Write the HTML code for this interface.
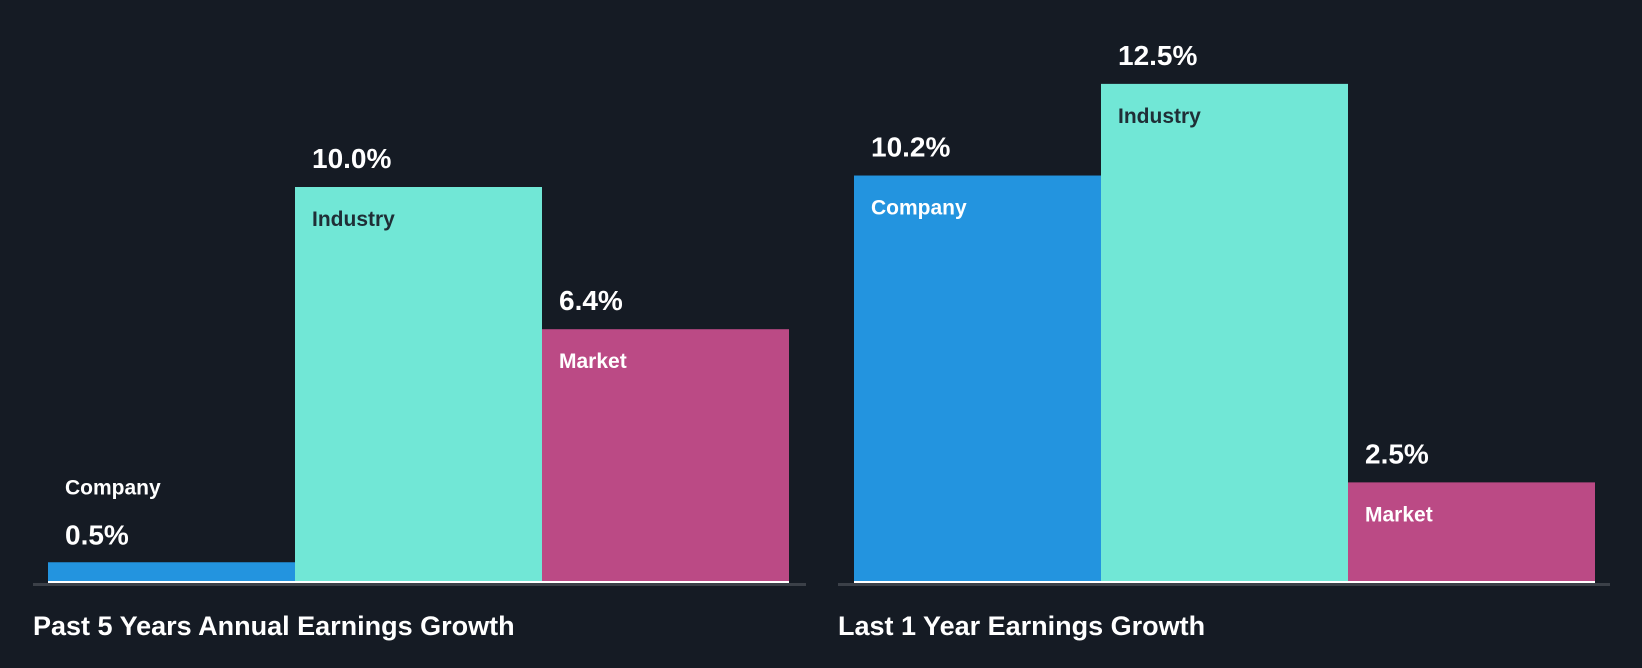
<!DOCTYPE html>
<html><head><meta charset="utf-8"><style>
html,body{margin:0;padding:0;background:#151b24;}
svg{display:block;font-family:"Liberation Sans",sans-serif;font-weight:bold;}
</style></head><body>
<svg id="chart" width="1642" height="668" viewBox="0 0 1642 668">
<rect x="0" y="0" width="1642" height="668" fill="#151b24"/>
</svg>
<script>
const categories = ["Company","Industry","Market"];
const past5Values = [0.5, 10.0, 6.4];
const last1Values = [10.2, 12.5, 2.5];
const panelTitles = ["Past 5 Years Annual Earnings Growth","Last 1 Year Earnings Growth"];

const colors = ["#2394df","#71e7d6","#bb4a85"];
const textColors = ["#ffffff","#1f2e36","#ffffff"];
const svg = document.getElementById('chart');
const NS = "http://www.w3.org/2000/svg";
const baseY = 582;
function mk(tag, attrs){const e=document.createElementNS(NS,tag);for(const k in attrs)e.setAttribute(k,attrs[k]);svg.appendChild(e);return e;}
const panels = [
  {values: past5Values, x0: 48, bw: 247, axisX0: 33, axisX1: 806, scale: 39.5, titleX: 33},
  {values: last1Values, x0: 854, bw: 247, axisX0: 838, axisX1: 1610, scale: 39.85, titleX: 838}
];
panels.forEach((p, pi) => {
  const yScale = v => baseY - v * p.scale;
  const axis = mk('rect',{x:p.axisX0,y:baseY+1,width:p.axisX1-p.axisX0,height:3,fill:'#3b4048'});
  
  
  p.values.forEach((v, i) => {
    const x = p.x0 + i * p.bw;
    const top = yScale(v);
    const bar = mk('rect',{x:x,y:top,width:p.bw,height:baseY-top,fill:colors[i]});
    
    
    const base = mk('rect',{x:x,y:baseY-1,width:p.bw,height:2,fill:'#ffffff'});
    
    
    const small = (baseY - top) < 60;
    const val = mk('text',{x:x+17,y:small?(top-18):(top-19),fill:'#ffffff','font-size':28});
    val.textContent = v.toFixed(1) + '%';
    
    
    const lab = mk('text',{x:x+17,y:small?(top-68):(top+39),fill:small?'#ffffff':textColors[i],'font-size':21});
    lab.textContent = categories[i];
    
    
  });
  const t = mk('text',{x:p.titleX,y:635,fill:'#ffffff','font-size':27});
  t.textContent = panelTitles[pi];
  
  
});
</script>
</body></html>
